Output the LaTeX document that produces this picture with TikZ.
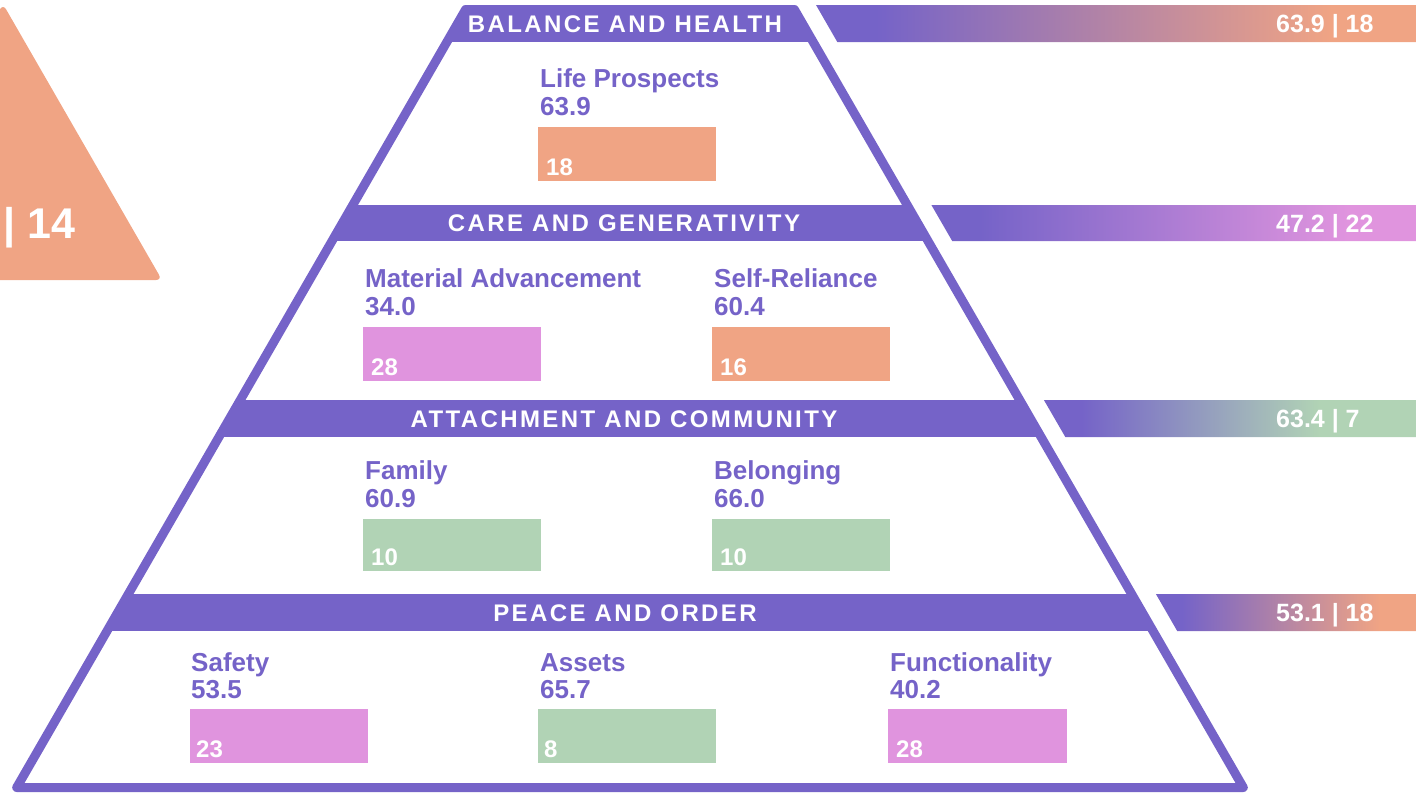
\documentclass[tikz,border=0pt]{standalone}
\usepackage{fontspec}
\setmainfont{Liberation Sans}
\newfontfamily\bandfont[LetterSpace=10]{Liberation Sans}
\usepackage{xcolor}
\usetikzlibrary{positioning}

\definecolor{pyrpurple}{RGB}{117,99,200}
\definecolor{scoreorange}{RGB}{240,164,132}
\definecolor{scorepink}{RGB}{224,148,222}
\definecolor{scoregreen}{RGB}{177,211,181}

\pgfdeclarehorizontalshading{fadeorange}{100bp}{color(0bp)=(pyrpurple); color(30bp)=(pyrpurple); color(68bp)=(scoreorange); color(100bp)=(scoreorange)}
\pgfdeclarehorizontalshading{fadepink}{100bp}{color(0bp)=(pyrpurple); color(30bp)=(pyrpurple); color(68bp)=(scorepink); color(100bp)=(scorepink)}
\pgfdeclarehorizontalshading{fadegreen}{100bp}{color(0bp)=(pyrpurple); color(30bp)=(pyrpurple); color(62bp)=(scoregreen); color(100bp)=(scoregreen)}

\tikzset{
    band/.style={font=\bandfont\fontsize{24}{24}\selectfont\bfseries, text=white, inner sep=0pt, anchor=base},
    lbl/.style={font=\fontsize{26}{26}\selectfont\bfseries, text=pyrpurple, inner sep=0pt, anchor=base west},
    bar/.style={minimum width=178pt, minimum height=54pt, inner sep=0pt, anchor=north west},
    num/.style={font=\fontsize{24}{24}\selectfont\bfseries, text=white, inner sep=0pt, anchor=base west},
    score/.style={font=\fontsize{25}{25}\selectfont\bfseries, text=white, inner sep=0pt, anchor=base west}
}

\begin{document}
\begin{tikzpicture}[x=1pt, y=-1pt]
    \useasboundingbox (0,0) rectangle (1416,793);
    \clip (0,0) rectangle (1416,793);

    % left side marker
    \fill[scoreorange, rounded corners=6pt] (-156,280) -- (3,4) -- (162,280) -- cycle;
    \node[font=\fontsize{43}{43}\selectfont\bfseries, text=white, inner sep=0pt, anchor=base west] (sidescore) at (3,238) {| 14};

    % pyramid
    \coordinate (topL) at (465.6,9.5);
    \coordinate (topR) at (794.4,9.5);
    \coordinate (botR) at (1243.3,787.5);
    \coordinate (botL) at (16.7,787.5);
    \begin{scope}
        \clip (topL) -- (topR) -- (botR) -- (botL) -- cycle;
        \fill[pyrpurple] (0,5) rectangle (1416,42);
        \fill[pyrpurple] (0,205) rectangle (1416,241);
        \fill[pyrpurple] (0,400) rectangle (1416,437);
        \fill[pyrpurple] (0,594) rectangle (1416,631);
    \end{scope}
    \draw[pyrpurple, line width=9pt, line join=round] (topL) -- (topR) -- (botR) -- (botL) -- cycle;

    \node[band] (h1) at (625,32) {BALANCE AND HEALTH};
    \node[band] (h2) at (624,231.5) {CARE AND GENERATIVITY};
    \node[band] (h3) at (624,427) {ATTACHMENT AND COMMUNITY};
    \node[band] (h4) at (625,621) {PEACE AND ORDER};

    % score bars
    \shade[shading=fadeorange] (816,5) -- (1416,5) -- (1416,42) -- (837.3,42) -- cycle;
    \shade[shading=fadepink] (931.4,205) -- (1416,205) -- (1416,241) -- (952.2,241) -- cycle;
    \shade[shading=fadegreen] (1043.9,400) -- (1416,400) -- (1416,437) -- (1065.3,437) -- cycle;
    \shade[shading=fadeorange] (1155.9,594) -- (1416,594) -- (1416,631) -- (1177.2,631) -- cycle;

    \node[score] (s1) at (1276,32.5) {63.9 | 18};
    \node[score] (s2) at (1276,232) {47.2 | 22};
    \node[score] (s3) at (1276,427.5) {63.4 | 7};
    \node[score] (s4) at (1276,621.5) {53.1 | 18};

    % balance and health
    \node[lbl] (l11) at (540,87) {Life Prospects};
    \node[lbl] (v11) at (540,115) {63.9};
    \node[bar, fill=scoreorange] (b11) at (538,127) {};
    \node[num] (n11) at ([shift={(8pt,6pt)}]b11.south west) {18};

    % care and generativity
    \node[lbl] (l21) at (365,287) {Material Advancement};
    \node[lbl] (v21) at (365,315) {34.0};
    \node[bar, fill=scorepink] (b21) at (363,327) {};
    \node[num] (n21) at ([shift={(8pt,6pt)}]b21.south west) {28};

    \node[lbl] (l22) at (714,287) {Self-Reliance};
    \node[lbl] (v22) at (714,315) {60.4};
    \node[bar, fill=scoreorange] (b22) at (712,327) {};
    \node[num] (n22) at ([shift={(8pt,6pt)}]b22.south west) {16};

    % attachment and community
    \node[lbl] (l31) at (365,479) {Family};
    \node[lbl] (v31) at (365,507) {60.9};
    \node[bar, fill=scoregreen, minimum height=52pt] (b31) at (363,519) {};
    \node[num] (n31) at ([shift={(8pt,6pt)}]b31.south west) {10};

    \node[lbl] (l32) at (714,479) {Belonging};
    \node[lbl] (v32) at (714,507) {66.0};
    \node[bar, fill=scoregreen, minimum height=52pt] (b32) at (712,519) {};
    \node[num] (n32) at ([shift={(8pt,6pt)}]b32.south west) {10};

    % peace and order
    \node[lbl] (l41) at (191,671) {Safety};
    \node[lbl] (v41) at (191,698) {53.5};
    \node[bar, fill=scorepink] (b41) at (190,709) {};
    \node[num] (n41) at ([shift={(6pt,6pt)}]b41.south west) {23};

    \node[lbl] (l42) at (540,671) {Assets};
    \node[lbl] (v42) at (540,698) {65.7};
    \node[bar, fill=scoregreen] (b42) at (538,709) {};
    \node[num] (n42) at ([shift={(6pt,6pt)}]b42.south west) {8};

    \node[lbl] (l43) at (890,671) {Functionality};
    \node[lbl] (v43) at (890,698) {40.2};
    \node[bar, fill=scorepink, minimum width=179pt] (b43) at (888,709) {};
    \node[num] (n43) at ([shift={(8pt,6pt)}]b43.south west) {28};
\end{tikzpicture}
\end{document}
